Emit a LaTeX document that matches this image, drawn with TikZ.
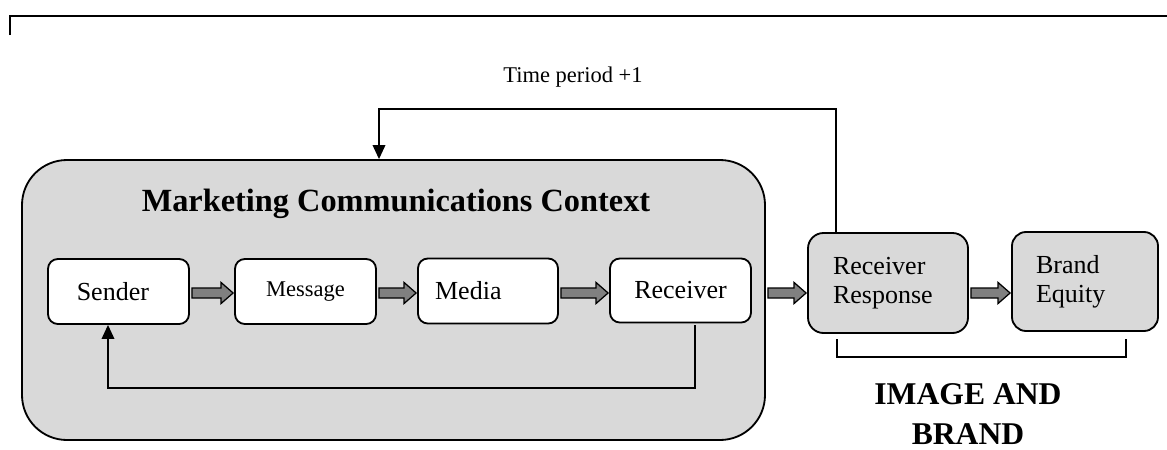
\documentclass[tikz,border=0pt]{standalone}
\usepackage{fontspec}
\setmainfont{Liberation Serif}
\usetikzlibrary{calc,arrows.meta}
\definecolor{ctxgray}{RGB}{217,217,217}
\definecolor{arrgray}{RGB}{128,128,128}
\newcommand{\pxu}{0.025cm}
\tikzset{
	stagebox/.style={draw, line width=1.3pt, rounded corners=7pt, fill=white,
		minimum width=141*\pxu, minimum height=65*\pxu, inner sep=0,
		font=\fontsize{18.5}{21}\selectfont},
	outbox/.style={draw, line width=1.3pt, rounded corners=11pt, fill=ctxgray,
		inner sep=0, align=left, font=\fontsize{18.5}{20.5}\selectfont},
	fatarrow/.style={draw, line width=0.9pt, fill=arrgray, line join=miter},
	loopline/.style={draw, line width=1.1pt},
}
\begin{document}
\begin{tikzpicture}[x=\pxu, y=-\pxu]
		\useasboundingbox (0,0) rectangle (1167,449);
		% outer frame (top edge only)
		\draw[line width=2pt] (10,35) -- (10,16) -- (1170,16);
		% context
		\node (context) at (393.5,300) [draw, line width=1.3pt, rounded corners=32pt, fill=ctxgray,
			minimum width=743*\pxu, minimum height=280*\pxu] {};
		\node (title) at (396,204) [font=\fontsize{23}{27}\selectfont\bfseries] {Marketing Communications Context};
		\node (sender) at (118.5,291.5) [stagebox] {Sender\hspace*{8pt}};
		\node (message) at (305.5,291.5) [stagebox, font=\fontsize{16}{19}\selectfont] {Message};
		\node (media) at (488,291) [stagebox, minimum width=140*\pxu] {Media\hspace*{28pt}};
		\node (receiver) at (680.5,290.5) [stagebox, minimum height=64*\pxu] {Receiver};
		% outcomes
		\node (response) at (888,283) [outbox, minimum width=160*\pxu, minimum height=100*\pxu,
			text width=110*\pxu] {Receiver\\Response};
		\node (equity) at (1085,281.5) [outbox, minimum width=146*\pxu, minimum height=99*\pxu,
			text width=98*\pxu, rounded corners=10pt] {Brand\\Equity};
		\node (timelabel) at (573,77) [font=\fontsize{16}{18}\selectfont] {Time period +1};
		\node (imagelabel) at (968,414) [align=center, font=\fontsize{22.5}{28}\selectfont\bfseries] {IMAGE AND\\BRAND};
		% bracket under the outcomes
		\draw[line width=1.1pt] (837,339) -- (837,357) -- (1126,357) -- (1126,339);
		% block arrows
		\coordinate (ah) at (0,293);
		\foreach \a/\b in {sender/message, message/media, media/receiver, context/response, response/equity}
			\draw[fatarrow] ($(\a.east |- ah)+(2,-5)$) -- ($(\b.west |- ah)+(-13,-5)$)
				-- ($(\b.west |- ah)+(-13,-10.5)$) -- ($(\b.west |- ah)+(-1,0)$)
				-- ($(\b.west |- ah)+(-13,10.5)$) -- ($(\b.west |- ah)+(-13,5)$)
				-- ($(\a.east |- ah)+(2,5)$) -- cycle;
		% feedback loops
		\coordinate (tp) at (379,109);
		\draw[loopline, -{Triangle[width=9pt,length=10pt]}] ($(response.north west)+(29,0)$) |- (tp) -- (tp |- context.north);
		\coordinate (bl) at (108,388);
		\draw[loopline, -{Triangle[width=9pt,length=10pt]}] ($(receiver.south)+(14.5,2)$) |- (bl) -- (bl |- sender.south);
	\end{tikzpicture}
\end{document}
